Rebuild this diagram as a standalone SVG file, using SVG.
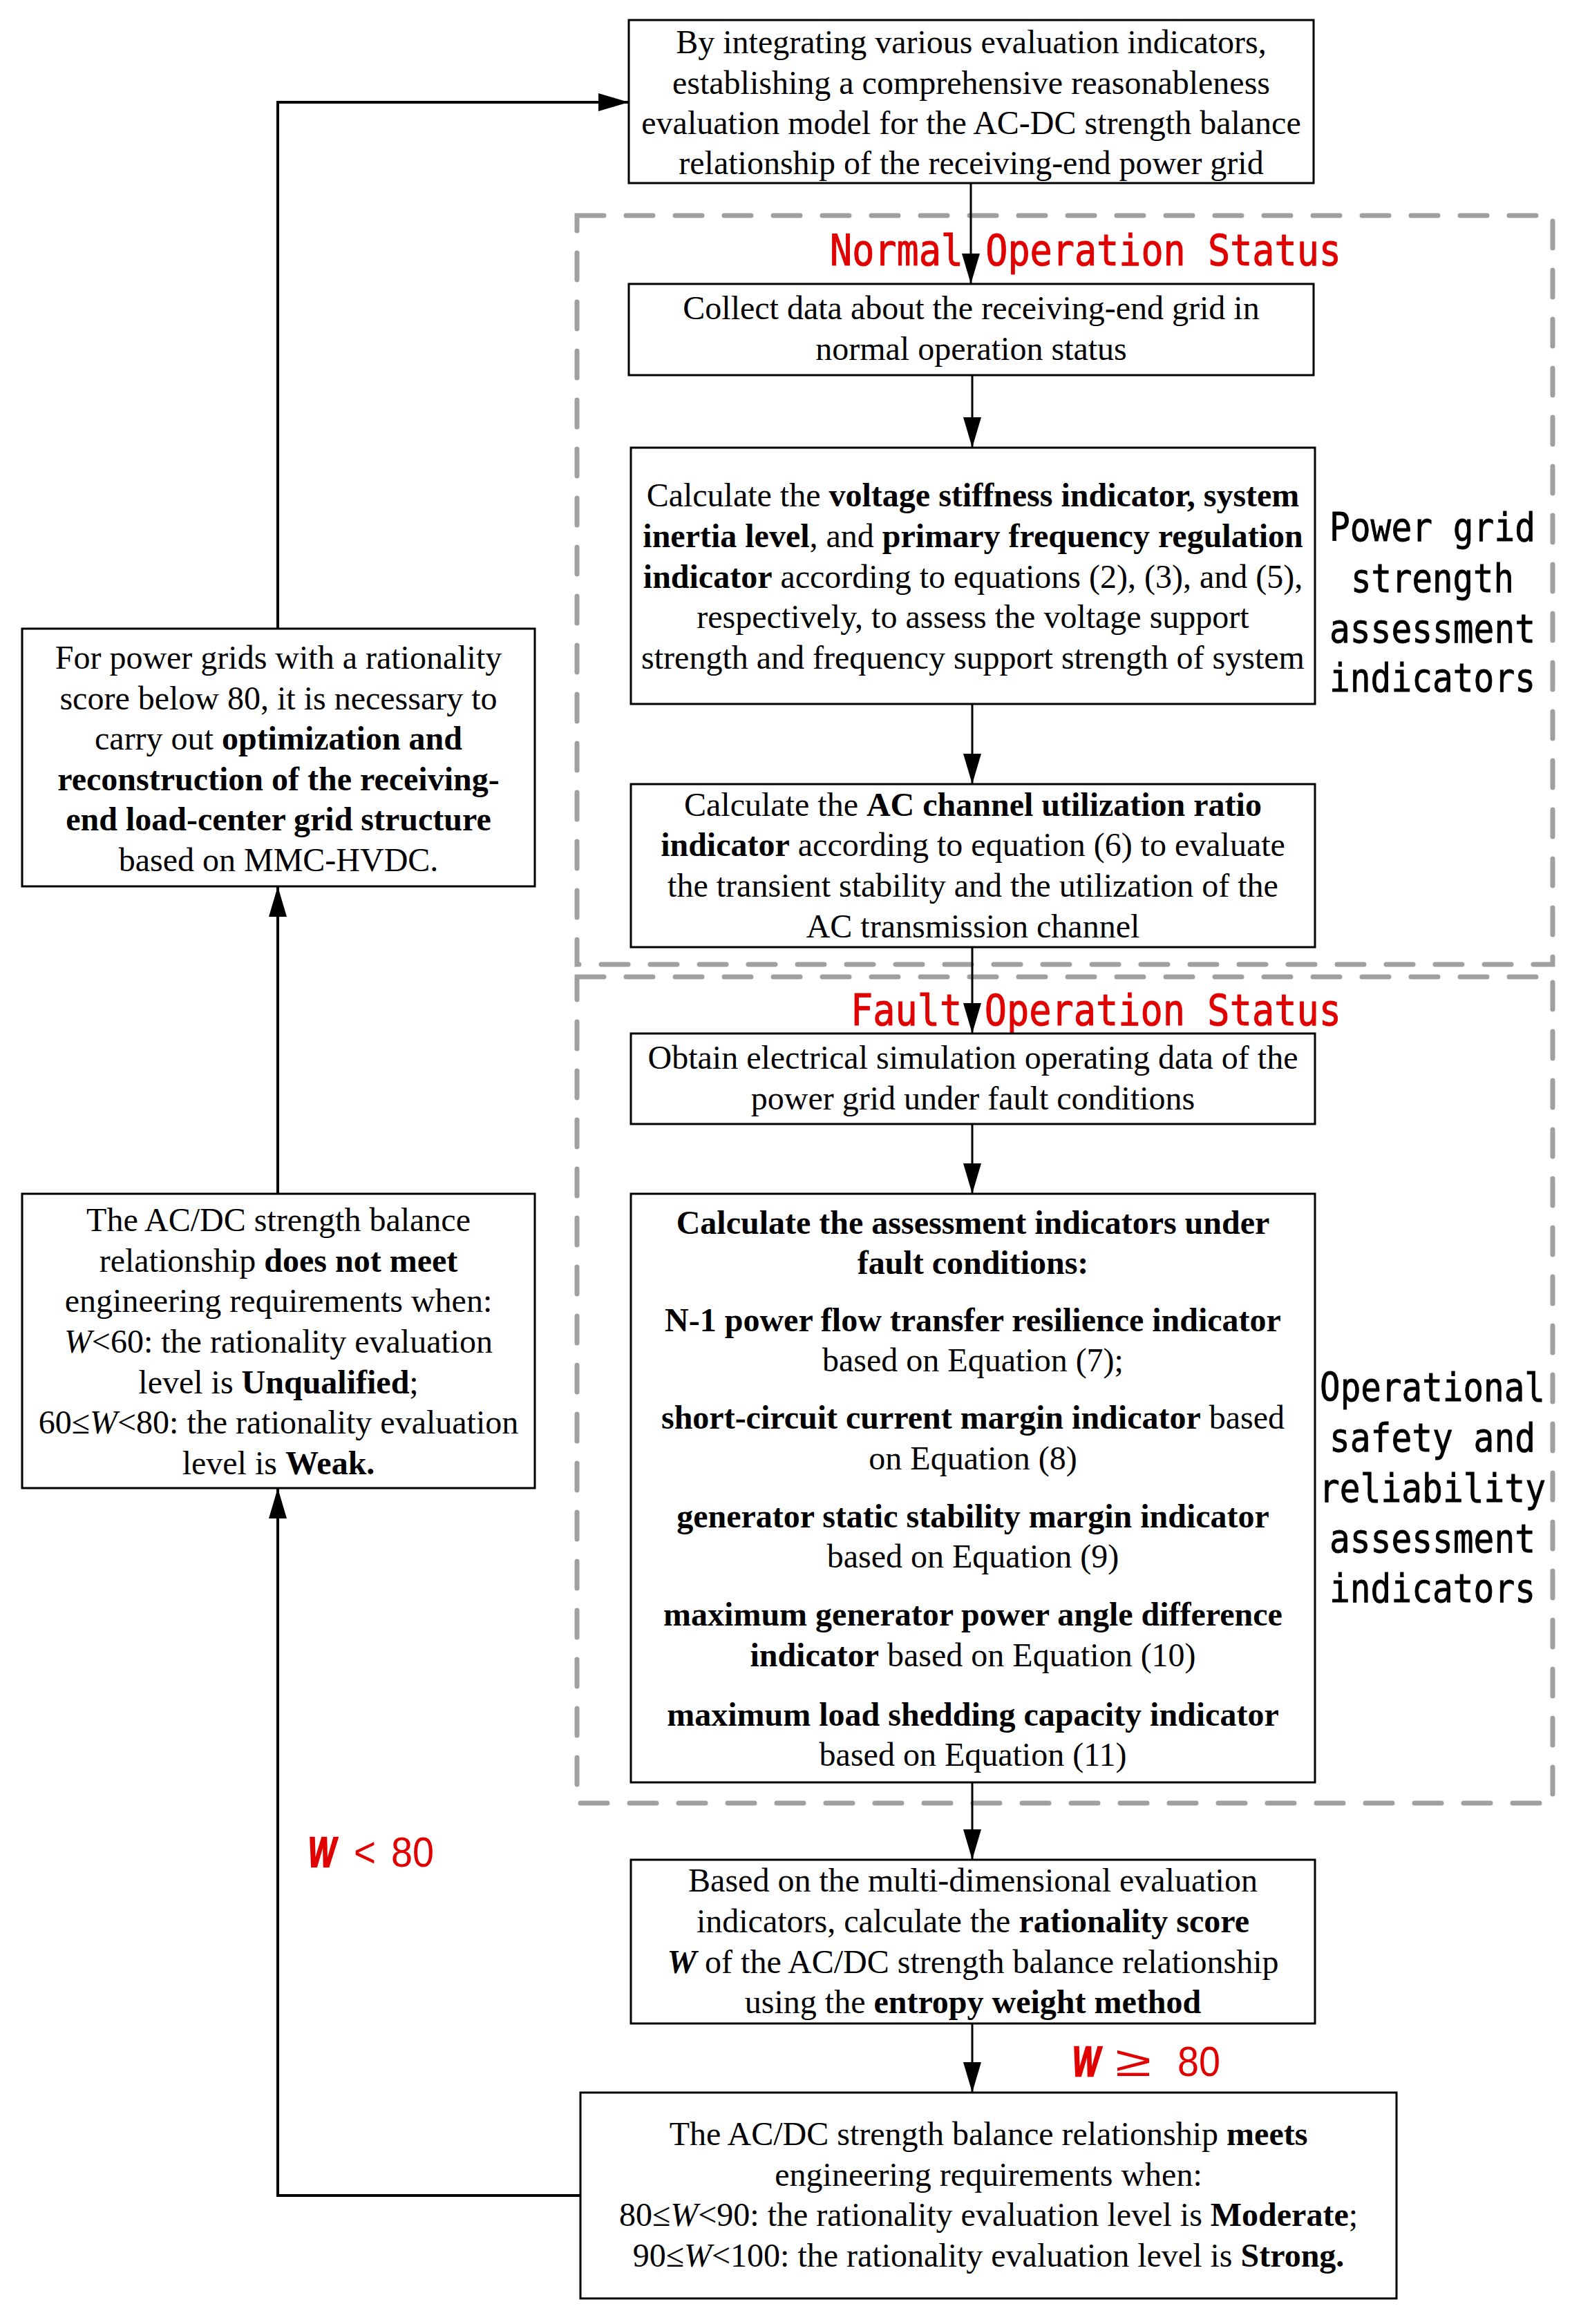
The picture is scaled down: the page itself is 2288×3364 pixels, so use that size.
<svg xmlns="http://www.w3.org/2000/svg" width="2288" height="3364" viewBox="0 0 2288 3364">
<style>
.box{fill:#fff;stroke:#000;stroke-width:3}
.t{font-family:"Liberation Serif","Times New Roman",serif;font-size:48px;text-anchor:middle;fill:#000}
.b{font-weight:bold}
.i{font-style:italic}
.dash{fill:none;stroke:#A0A0A0;stroke-width:7;stroke-dasharray:39 32;stroke-linecap:round}
.red{font-family:"DejaVu Sans Mono","Liberation Mono",monospace;fill:#E00000;stroke:#E00000;stroke-width:1;font-size:62px}
.side{font-family:"DejaVu Sans Mono","Liberation Mono",monospace;font-size:57px;text-anchor:middle;fill:#000;stroke:#000;stroke-width:0.8}
.cond{font-family:"Liberation Sans",Arial,sans-serif;font-size:62px;fill:#E00000}
.wv{stroke:#E00000;stroke-width:2.5}
.conn{fill:none;stroke:#000;stroke-width:3}
.connL{fill:none;stroke:#000;stroke-width:4}
</style>
<defs>
<marker id="arr" viewBox="0 0 44 26" refX="44" refY="13" markerWidth="44" markerHeight="26" markerUnits="userSpaceOnUse" orient="auto">
<path d="M0,0 L44,13 L0,26 z" fill="#000"/>
</marker>
</defs>
<rect width="2288" height="3364" fill="#fff"/>

<g id="group-normal">
<rect class="dash" x="835" y="312" width="1412" height="1084"/>
<text class="red" x="1201" y="384" textLength="740" lengthAdjust="spacingAndGlyphs">Normal Operation Status</text>
<text class="side" x="2073" y="783" textLength="298" lengthAdjust="spacingAndGlyphs">Power grid</text>
<text class="side" x="2073" y="857" textLength="236" lengthAdjust="spacingAndGlyphs">strength</text>
<text class="side" x="2073" y="930" textLength="298" lengthAdjust="spacingAndGlyphs">assessment</text>
<text class="side" x="2073" y="1001" textLength="298" lengthAdjust="spacingAndGlyphs">indicators</text>
</g>

<g id="group-fault">
<rect class="dash" x="835" y="1414" width="1412" height="1196"/>
<text class="red" x="1231" y="1484" textLength="710" lengthAdjust="spacingAndGlyphs">Fault Operation Status</text>
<text class="side" x="2073" y="2028" textLength="326" lengthAdjust="spacingAndGlyphs">Operational</text>
<text class="side" x="2073" y="2101" textLength="298" lengthAdjust="spacingAndGlyphs">safety and</text>
<text class="side" x="2073" y="2174" textLength="328" lengthAdjust="spacingAndGlyphs">reliability</text>
<text class="side" x="2073" y="2247" textLength="298" lengthAdjust="spacingAndGlyphs">assessment</text>
<text class="side" x="2073" y="2319" textLength="298" lengthAdjust="spacingAndGlyphs">indicators</text>
</g>

<g id="n-model">
<rect class="box" x="910" y="29" width="991" height="236"/>
<text class="t" x="1405.5" y="77">By integrating various evaluation indicators,</text>
<text class="t" x="1405.5" y="136">establishing a comprehensive reasonableness</text>
<text class="t" x="1405.5" y="194">evaluation model for the AC-DC strength balance</text>
<text class="t" x="1405.5" y="252">relationship of the receiving-end power grid</text>
</g>

<g id="n-collect">
<rect class="box" x="910" y="411" width="991" height="132"/>
<text class="t" x="1405.5" y="462">Collect data about the receiving-end grid in</text>
<text class="t" x="1405.5" y="521">normal operation status</text>
</g>

<g id="n-voltage">
<rect class="box" x="913" y="648" width="990" height="371"/>
<text class="t" x="1408" y="733">Calculate the <tspan class="b">voltage stiffness indicator, system</tspan></text>
<text class="t" x="1408" y="792"><tspan class="b">inertia level</tspan>, and <tspan class="b">primary frequency regulation</tspan></text>
<text class="t" x="1408" y="851"><tspan class="b">indicator</tspan> according to equations (2), (3), and (5),</text>
<text class="t" x="1408" y="909">respectively, to assess the voltage support</text>
<text class="t" x="1408" y="968">strength and frequency support strength of system</text>
</g>

<g id="n-acchannel">
<rect class="box" x="913" y="1135" width="990" height="236"/>
<text class="t" x="1408" y="1181">Calculate the <tspan class="b">AC channel utilization ratio</tspan></text>
<text class="t" x="1408" y="1239"><tspan class="b">indicator</tspan> according to equation (6) to evaluate</text>
<text class="t" x="1408" y="1298">the transient stability and the utilization of the</text>
<text class="t" x="1408" y="1357">AC transmission channel</text>
</g>

<g id="n-obtain">
<rect class="box" x="913" y="1496" width="990" height="131"/>
<text class="t" x="1408" y="1547">Obtain electrical simulation operating data of the</text>
<text class="t" x="1408" y="1606">power grid under fault conditions</text>
</g>

<g id="n-fault-ind">
<rect class="box" x="913" y="1728" width="990" height="852"/>
<text class="t b" x="1408" y="1786">Calculate the assessment indicators under</text>
<text class="t b" x="1408" y="1844">fault conditions:</text>
<text class="t b" x="1408" y="1927">N-1 power flow transfer resilience indicator</text>
<text class="t" x="1408" y="1985">based on Equation (7);</text>
<text class="t" x="1408" y="2068"><tspan class="b">short-circuit current margin indicator</tspan> based</text>
<text class="t" x="1408" y="2127">on Equation (8)</text>
<text class="t b" x="1408" y="2211">generator static stability margin indicator</text>
<text class="t" x="1408" y="2269">based on Equation (9)</text>
<text class="t b" x="1408" y="2353">maximum generator power angle difference</text>
<text class="t" x="1408" y="2412"><tspan class="b">indicator</tspan> based on Equation (10)</text>
<text class="t b" x="1408" y="2498">maximum load shedding capacity indicator</text>
<text class="t" x="1408" y="2556">based on Equation (11)</text>
</g>

<g id="n-score">
<rect class="box" x="913" y="2692" width="990" height="237"/>
<text class="t" x="1408" y="2738">Based on the multi-dimensional evaluation</text>
<text class="t" x="1408" y="2797">indicators, calculate the <tspan class="b">rationality score</tspan></text>
<text class="t" x="1408" y="2856"><tspan class="b i">W</tspan> of the AC/DC strength balance relationship</text>
<text class="t" x="1408" y="2914">using the <tspan class="b">entropy weight method</tspan></text>
</g>

<g id="n-meets">
<rect class="box" x="840" y="3029" width="1181" height="298"/>
<text class="t" x="1430.5" y="3105">The AC/DC strength balance relationship <tspan class="b">meets</tspan></text>
<text class="t" x="1430.5" y="3164">engineering requirements when:</text>
<text class="t" x="1430.5" y="3222">80≤<tspan class="i">W</tspan>&lt;90: the rationality evaluation level is <tspan class="b">Moderate</tspan>;</text>
<text class="t" x="1430.5" y="3281">90≤<tspan class="i">W</tspan>&lt;100: the rationality evaluation level is <tspan class="b">Strong.</tspan></text>
</g>

<g id="n-notmeet">
<rect class="box" x="32" y="1728" width="742" height="426"/>
<text class="t" x="403" y="1782">The AC/DC strength balance</text>
<text class="t" x="403" y="1841">relationship <tspan class="b">does not meet</tspan></text>
<text class="t" x="403" y="1899">engineering requirements when:</text>
<text class="t" x="403" y="1958"><tspan class="i">W</tspan>&lt;60: the rationality evaluation</text>
<text class="t" x="403" y="2017">level is <tspan class="b">Unqualified</tspan>;</text>
<text class="t" x="403" y="2075">60≤<tspan class="i">W</tspan>&lt;80: the rationality evaluation</text>
<text class="t" x="403" y="2134">level is <tspan class="b">Weak.</tspan></text>
</g>

<g id="n-optimize">
<rect class="box" x="32" y="910" width="742" height="373"/>
<text class="t" x="403" y="968">For power grids with a rationality</text>
<text class="t" x="403" y="1027">score below 80, it is necessary to</text>
<text class="t" x="403" y="1085">carry out <tspan class="b">optimization and</tspan></text>
<text class="t b" x="403" y="1144">reconstruction of the receiving-</text>
<text class="t b" x="403" y="1202">end load-center grid structure</text>
<text class="t" x="403" y="1261">based on MMC-HVDC.</text>
</g>

<g id="connectors">
<line class="conn" x1="1405" y1="265" x2="1405" y2="411" marker-end="url(#arr)"/>
<line class="conn" x1="1407" y1="543" x2="1407" y2="648" marker-end="url(#arr)"/>
<line class="conn" x1="1407" y1="1019" x2="1407" y2="1135" marker-end="url(#arr)"/>
<line class="conn" x1="1407" y1="1371" x2="1407" y2="1496" marker-end="url(#arr)"/>
<line class="conn" x1="1407" y1="1627" x2="1407" y2="1728" marker-end="url(#arr)"/>
<line class="conn" x1="1407" y1="2580" x2="1407" y2="2692" marker-end="url(#arr)"/>
<line class="conn" x1="1407" y1="2929" x2="1407" y2="3029" marker-end="url(#arr)"/>
<polyline class="connL" points="840,3178 402,3178 402,2154" marker-end="url(#arr)"/>
<line class="connL" x1="402" y1="1728" x2="402" y2="1283" marker-end="url(#arr)"/>
<polyline class="connL" points="402,910 402,148 910,148" marker-end="url(#arr)"/>
<text class="cond" x="446" y="2702"><tspan class="b i wv" textLength="40" lengthAdjust="spacingAndGlyphs">W</tspan><tspan x="512" textLength="32" lengthAdjust="spacingAndGlyphs">&lt;</tspan><tspan x="566" textLength="62" lengthAdjust="spacingAndGlyphs">80</tspan></text>
<text class="cond" x="1552" y="3005"><tspan class="b i wv" textLength="40" lengthAdjust="spacingAndGlyphs">W</tspan><tspan x="1614" textLength="52" lengthAdjust="spacingAndGlyphs">≥</tspan><tspan x="1704" textLength="62" lengthAdjust="spacingAndGlyphs">80</tspan></text>
</g>
</svg>
